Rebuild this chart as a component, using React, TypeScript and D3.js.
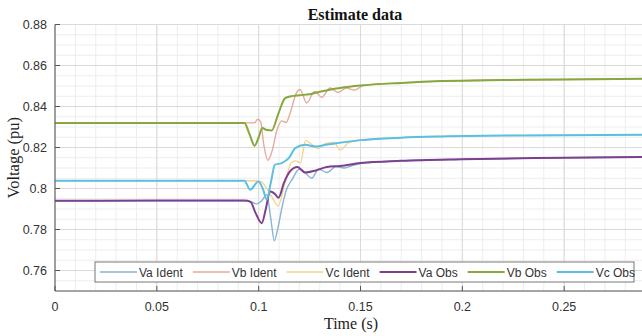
import React from "react";
import * as d3 from "d3";

// time (s) / voltage (pu) pairs
const vaIdentT = [0, 0.094, 0.0965, 0.099, 0.1015, 0.104, 0.106, 0.1077, 0.1095, 0.1115, 0.1135, 0.1165, 0.12, 0.123, 0.126, 0.1295, 0.1335, 0.138, 0.142, 0.146, 0.15, 0.17, 0.2, 0.25, 0.3];
const vaIdentV = [0.794, 0.794, 0.7935, 0.7925, 0.794, 0.797, 0.785, 0.7745, 0.781, 0.791, 0.799, 0.8045, 0.8095, 0.8075, 0.805, 0.8095, 0.8078, 0.8107, 0.81, 0.8112, 0.8122, 0.8135, 0.8143, 0.815, 0.8155];

const vbIdentT = [0, 0.098, 0.0995, 0.101, 0.1025, 0.1045, 0.1065, 0.109, 0.1113, 0.1135, 0.1155, 0.1185, 0.1203, 0.1236, 0.1274, 0.131, 0.135, 0.139, 0.143, 0.147, 0.152, 0.17, 0.19, 0.22, 0.25, 0.3];
const vbIdentV = [0.832, 0.832, 0.8338, 0.8325, 0.8215, 0.8138, 0.818, 0.8285, 0.833, 0.8322, 0.837, 0.8465, 0.8483, 0.8417, 0.8473, 0.8445, 0.849, 0.8468, 0.849, 0.848, 0.8505, 0.8515, 0.8524, 0.8529, 0.8532, 0.8536];

const vcIdentT = [0, 0.098, 0.101, 0.104, 0.107, 0.1095, 0.113, 0.116, 0.118, 0.1205, 0.123, 0.126, 0.129, 0.133, 0.137, 0.14, 0.144, 0.15, 0.17, 0.19, 0.23, 0.3];
const vcIdentV = [0.8038, 0.8038, 0.8035, 0.8, 0.795, 0.7915, 0.803, 0.8125, 0.8135, 0.8125, 0.8235, 0.8215, 0.8195, 0.822, 0.8225, 0.8188, 0.8222, 0.8236, 0.8248, 0.8254, 0.8259, 0.8263];

const vaObsT = [0, 0.05, 0.093, 0.096, 0.0985, 0.1015, 0.1035, 0.1056, 0.1078, 0.1097, 0.1125, 0.1154, 0.119, 0.1228, 0.128, 0.1335, 0.14, 0.15, 0.17, 0.2, 0.25, 0.3];
const vaObsV = [0.794, 0.7941, 0.7941, 0.7935, 0.788, 0.7831, 0.79, 0.7985, 0.7975, 0.7955, 0.803, 0.8083, 0.8105, 0.8078, 0.8088, 0.8105, 0.811, 0.8124, 0.8135, 0.8143, 0.815, 0.8155];

const vbObsT = [0, 0.05, 0.093, 0.0955, 0.098, 0.1, 0.1018, 0.104, 0.1064, 0.1095, 0.113, 0.116, 0.12, 0.125, 0.13, 0.135, 0.14, 0.15, 0.17, 0.19, 0.22, 0.25, 0.3];
const vbObsV = [0.832, 0.832, 0.832, 0.8265, 0.8209, 0.825, 0.8295, 0.8285, 0.8283, 0.836, 0.8441, 0.845, 0.8455, 0.846, 0.8472, 0.8482, 0.849, 0.8502, 0.8515, 0.8524, 0.8529, 0.8532, 0.8536];

const vcObsT = [0, 0.093, 0.0958, 0.0999, 0.102, 0.104, 0.106, 0.108, 0.1113, 0.1148, 0.118, 0.123, 0.128, 0.133, 0.138, 0.15, 0.17, 0.19, 0.23, 0.3];
const vcObsV = [0.8038, 0.8038, 0.7994, 0.8034, 0.8, 0.7945, 0.803, 0.8116, 0.8124, 0.8148, 0.8197, 0.8213, 0.8205, 0.8213, 0.8221, 0.8236, 0.8248, 0.8254, 0.8259, 0.8263];

const seriesNames = ["Va Ident", "Vb Ident", "Vc Ident", "Va Obs", "Vb Obs", "Vc Obs"];
const xTicks = [0, 0.05, 0.1, 0.15, 0.2, 0.25, 0.3];
const xTickLabels = ["0", "0.05", "0.1", "0.15", "0.2", "0.25"];
const yTicks = [0.76, 0.78, 0.8, 0.82, 0.84, 0.86, 0.88];

const series = [
  { name: seriesNames[0], t: vaIdentT, v: vaIdentV, color: "#86b4d4", width: 1.4 },
  { name: seriesNames[1], t: vbIdentT, v: vbIdentV, color: "#e4ab9c", width: 1.4 },
  { name: seriesNames[2], t: vcIdentT, v: vcIdentV, color: "#f1d58e", width: 1.4 },
  { name: seriesNames[3], t: vaObsT, v: vaObsV, color: "#7d3f8e", width: 2 },
  { name: seriesNames[4], t: vbObsT, v: vbObsV, color: "#87a83c", width: 2 },
  { name: seriesNames[5], t: vcObsT, v: vcObsV, color: "#5bbfe4", width: 2 },
];

const W = 642;
const H = 336;
const tickFont = "Liberation Sans, Arial, sans-serif";
const serif = "Liberation Serif, Times New Roman, serif";

function textWidth(s: string, font: string) {
  const c = document.createElement("canvas").getContext("2d");
  if (!c) return s.length * 6.5;
  c.font = font;
  return c.measureText(s).width;
}

export default function App() {
  const x = d3.scaleLinear().domain([0, 0.3]).range([55, 666]);
  const y = d3.scaleLinear().domain([0.75, 0.88]).range([291, 24.5]);

  const line = d3
    .line<[number, number]>()
    .x((d) => x(d[0]))
    .y((d) => y(d[1]))
    .curve(d3.curveMonotoneX);

  const xMinor = d3.range(0, 31).map((i) => i / 100);
  const yMinor = d3.range(0, 27).map((i) => 0.75 + i * 0.005);

  // legend layout
  const legFont = `12px ${tickFont}`;
  let lx = 100;
  const legItems = series.map((s) => {
    const item = { ...s, x: lx };
    lx += 39 + textWidth(s.name, legFont) + 10;
    return item;
  });

  const [x0, x1] = x.range();
  const [y0, y1] = y.range();

  return (
    <svg
      width={W}
      height={H}
      style={{ position: "absolute", left: 0, top: 0, background: "#fff" }}
    >
      <defs>
        <clipPath id="plot">
          <rect x={x0} y={y1} width={x1 - x0} height={y0 - y1} />
        </clipPath>
      </defs>

      {/* minor grid */}
      <g stroke="#ededed" strokeWidth={1}>
        {xMinor.map((t) => (
          <line key={"xm" + t} x1={x(t)} x2={x(t)} y1={y1} y2={y0} />
        ))}
        {yMinor.map((v) => (
          <line key={"ym" + v} x1={x0} x2={x1} y1={y(v)} y2={y(v)} />
        ))}
      </g>
      {/* major grid */}
      <g stroke="#dadada" strokeWidth={1}>
        {xTicks.map((t) => (
          <line key={"xg" + t} x1={x(t)} x2={x(t)} y1={y1} y2={y0} />
        ))}
        {yTicks.map((v) => (
          <line key={"yg" + v} x1={x0} x2={x1} y1={y(v)} y2={y(v)} />
        ))}
      </g>

      <g clipPath="url(#plot)" fill="none">
        {series.map((s) => (
          <path
            key={s.name}
            d={line(s.t.map((t, i) => [t, s.v[i]] as [number, number])) ?? ""}
            stroke={s.color}
            strokeWidth={s.width}
            strokeLinejoin="round"
          />
        ))}
      </g>

      {/* axes */}
      <g stroke="#555" strokeWidth={1}>
        <line x1={x0} x2={x0} y1={y1} y2={y0} />
        <line x1={x0} x2={x1} y1={y0} y2={y0} />
        {xTicks.map((t) => (
          <line key={"xt" + t} x1={x(t)} x2={x(t)} y1={y0} y2={y0 - 5} />
        ))}
        {yTicks.map((v) => (
          <line key={"yt" + v} x1={x0} x2={x0 + 5} y1={y(v)} y2={y(v)} />
        ))}
      </g>

      <g fontFamily={tickFont} fontSize={12.5} fill="#333">
        {xTickLabels.map((lab, i) => (
          <text key={"xl" + lab} x={x(xTicks[i])} y={311} textAnchor="middle">
            {lab}
          </text>
        ))}
        {yTicks.map((v) => (
          <text key={"yl" + v} x={47} y={y(v) + 4.5} textAnchor="end">
            {String(+v.toFixed(2))}
          </text>
        ))}
      </g>

      {/* legend */}
      <rect x={95} y={262} width={539} height={20} fill="#fff" stroke="#777" strokeWidth={1} />
      {legItems.map((s) => (
        <g key={"lg" + s.name}>
          <line
            x1={s.x}
            x2={s.x + 37}
            y1={272}
            y2={272}
            stroke={s.color}
            strokeWidth={s.width}
          />
          <text x={s.x + 39} y={276.5} fontFamily={tickFont} fontSize={12} fill="#333">
            {s.name}
          </text>
        </g>
      ))}

      <text
        x={355}
        y={20}
        textAnchor="middle"
        fontFamily={serif}
        fontWeight="bold"
        fontSize={16}
        fill="#111"
      >
        Estimate data
      </text>
      <text x={351} y={329} textAnchor="middle" fontFamily={serif} fontSize={16} fill="#222">
        Time (s)
      </text>
      <text
        transform={`translate(19,${(y0 + y1) / 2}) rotate(-90)`}
        textAnchor="middle"
        fontFamily={serif}
        fontSize={16.5}
        fill="#222"
      >
        Voltage (pu)
      </text>
    </svg>
  );
}
